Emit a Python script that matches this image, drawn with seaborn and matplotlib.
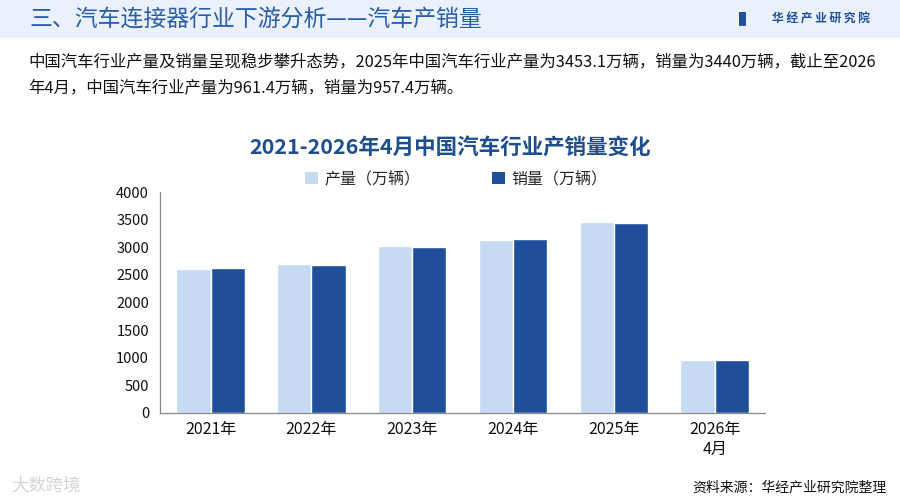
import numpy as np
import pandas as pd
import matplotlib
matplotlib.use('Agg')
import matplotlib.pyplot as plt
import seaborn as sns
from matplotlib.patches import Rectangle

sns.set_style('white')
plt.rcParams['font.family'] = ['Noto Sans CJK SC', 'DejaVu Sans']

# данные с картинки
years = ['2021年', '2022年', '2023年', '2024年', '2025年', '2026年\n4月']
production = [2608.2, 2702.1, 3016.1, 3128.2, 3453.1, 961.4]
sales = [2627.5, 2686.4, 3009.4, 3143.6, 3440.0, 957.4]
series = ['产量（万辆）', '销量（万辆）']
colors = ['#c6daf2', '#1f4f99']

df = pd.DataFrame({
    'year': years * 2,
    'value': production + sales,
    'type': [series[0]] * len(years) + [series[1]] * len(years),
})

fig = plt.figure(figsize=(9, 5), dpi=100)
fig.patch.set_facecolor('white')

# шапка
fig.patches.append(Rectangle((0, 0.924), 1, 0.076, transform=fig.transFigure,
                             facecolor='#eaf1fa', edgecolor='none', zorder=0))
fig.text(0.033, 0.962, '三、汽车连接器行业下游分析——汽车产销量', fontsize=16.5,
         color='#2a5ea8', va='center', ha='left', fontweight='medium')
fig.text(0.967, 0.962, '华 经 产 业 研 究 院', fontsize=8.5, color='#1f4f99',
         va='center', ha='right', fontweight='bold')
fig.text(0.836, 0.962, '▌', fontsize=10, color='#1f4f99', va='center', ha='right')

fig.text(0.031, 0.876, '中国汽车行业产量及销量呈现稳步攀升态势，2025年中国汽车行业产量为3453.1万辆，'
         '销量为3440万辆，截止至2026', fontsize=11.8, color='#111111', va='center', ha='left')
fig.text(0.031, 0.824, '年4月，中国汽车行业产量为961.4万辆，销量为957.4万辆。',
         fontsize=11.8, color='#111111', va='center', ha='left')

fig.text(0.5, 0.705, '2021-2026年4月中国汽车行业产销量变化', fontsize=15.5,
         color='#1f4e8c', fontweight='bold', va='center', ha='center')

ax = fig.add_axes([0.178, 0.174, 0.672, 0.442])
sns.barplot(data=df, x='year', y='value', hue='type', palette=colors,
            width=0.68, saturation=1, ax=ax, legend=False)

ax.set_ylim(0, 4000)
ax.set_yticks(np.arange(0, 4001, 500))
ax.set_xlim(-0.5, len(years) - 0.5)
ax.set_xlabel('')
ax.set_ylabel('')

for side in ['top', 'right']:
    ax.spines[side].set_visible(False)
for side in ['left', 'bottom']:
    ax.spines[side].set_color('#888888')
    ax.spines[side].set_linewidth(0.9)

ax.tick_params(axis='y', direction='out', length=4, color='#888888',
               labelsize=10.5, labelcolor='#111111', pad=4)
ax.tick_params(axis='x', which='major', length=0, labelsize=11.5,
               labelcolor='#111111', pad=6)
ax.set_xticks(np.arange(-0.5, len(years)), minor=True)
ax.tick_params(axis='x', which='minor', direction='out', length=4, color='#888888')

handles = [Rectangle((0, 0), 1, 1, facecolor=c, edgecolor='none') for c in colors]
ax.legend(handles, series, loc='lower center', bbox_to_anchor=(0.49, 0.99), ncol=2,
          frameon=False, fontsize=11.5, handlelength=0.8, handleheight=0.8,
          handletextpad=0.4, columnspacing=4.5, borderaxespad=0)

# подпись источника и водяной знак
fig.text(0.985, 0.025, '资料来源：华经产业研究院整理', fontsize=10, color='#111111',
         ha='right', va='center')
fig.text(0.012, 0.03, '大数跨境', fontsize=12.5, color='#d5d5d5', ha='left', va='center')

fig.savefig('out.png', dpi=100)
